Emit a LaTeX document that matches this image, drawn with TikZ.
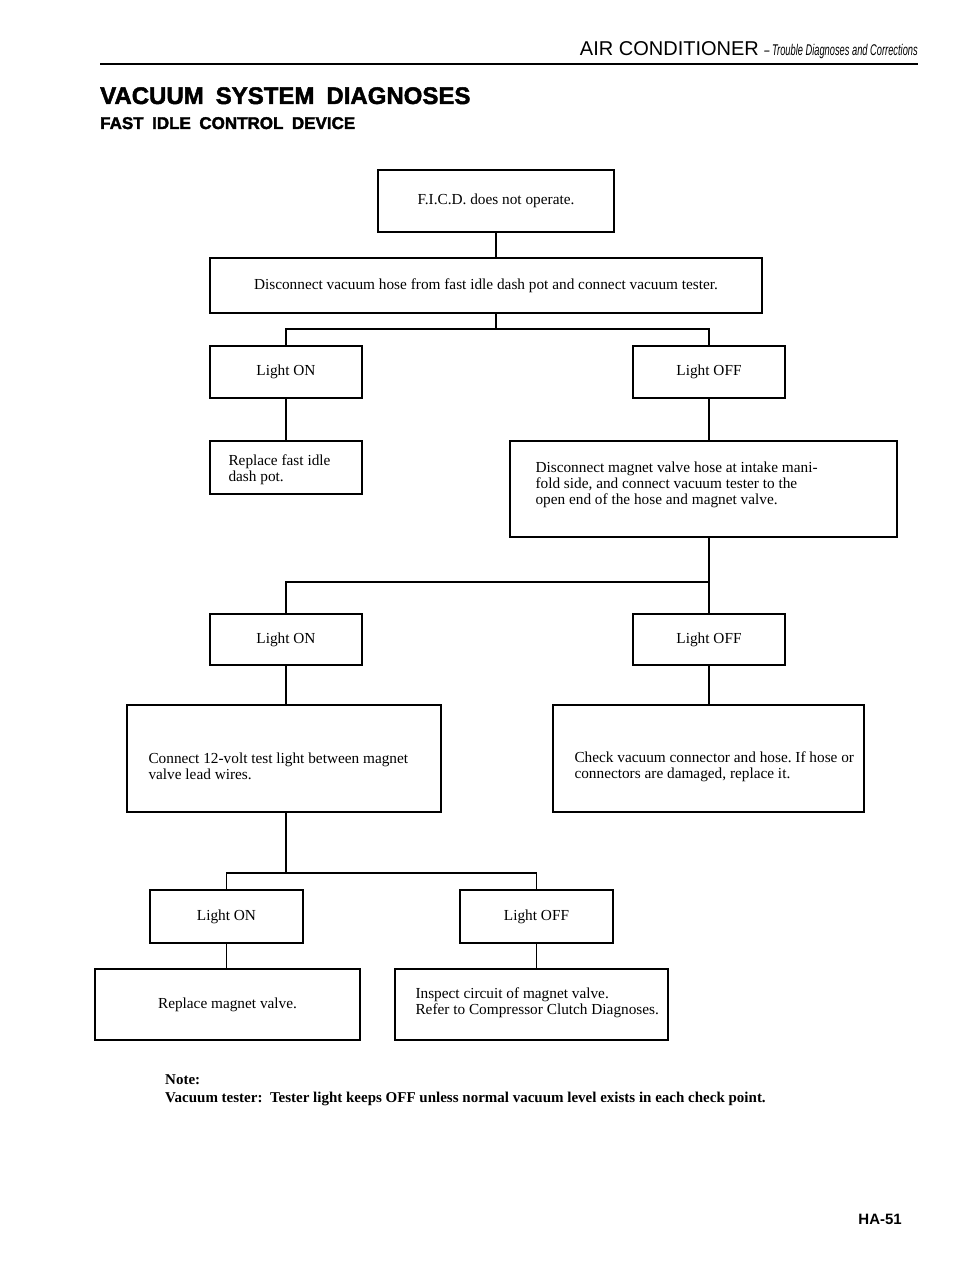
\documentclass[tikz,border=0pt]{standalone}
\usepackage{fontspec}
\setmainfont{Liberation Serif}
\setsansfont{Liberation Sans}
\newfontfamily\condsans[FakeStretch=0.6]{Liberation Sans}
\newfontfamily\heavysans[FakeBold=2,WordSpace=1.8]{Liberation Sans Bold}
\usetikzlibrary{positioning}
\tikzset{
  box/.style={draw,line width=1.4pt,rectangle,inner sep=0pt,font=\fontsize{15.3}{16}\selectfont},
  txt/.style={anchor=west,align=left,inner sep=0pt,font=\fontsize{15.3}{16}\selectfont},
  link/.style={line width=1.3pt},
}
\frenchspacing

\begin{document}
\begin{tikzpicture}[x=1pt,y=-1pt]
  \useasboundingbox (0,0) rectangle (960,1273);
  % page head
  \node[anchor=base east,inner sep=0pt] (head) at (918,56)
    {\sffamily\fontsize{20}{20}\selectfont AIR CONDITIONER\ {\condsans\itshape\fontsize{15.5}{15}\selectfont – Trouble Diagnoses and Corrections}};
  \draw[line width=2pt] (100,64) -- (918,64);
  \node[anchor=base west,inner sep=0pt] (title) at (100,104) {\heavysans\fontsize{24}{24}\selectfont VACUUM SYSTEM DIAGNOSES};
  \node[anchor=base west,inner sep=0pt] (subtitle) at (100,129) {\heavysans\fontsize{17}{17}\selectfont FAST IDLE CONTROL DEVICE};

  % chart boxes
  \node[box,minimum width=236pt,minimum height=62pt] (ficd) at (496,201) {F.I.C.D. does not operate.};
  \node[box,minimum width=552pt,minimum height=55pt] (hose) at (486,285.5) {Disconnect vacuum hose from fast idle dash pot and connect vacuum tester.};
  \node[box,minimum width=152pt,minimum height=52pt] (on1) at (286,372) {Light ON};
  \node[box,minimum width=152pt,minimum height=52pt] (off1) at (709,372) {Light OFF};
  \node[box,minimum width=152pt,minimum height=53pt] (dash) at (286,467.5) {};
  \node[txt] (dashtxt) at ([xshift=19pt,yshift=-2pt]dash.west) {Replace fast idle\\dash pot.};
  \node[box,minimum width=387pt,minimum height=96pt] (mag) at (703.5,489) {};
  \node[txt] (magtxt) at ([xshift=26pt,yshift=4pt]mag.west)
    {Disconnect magnet valve hose at intake mani-\\fold side, and connect vacuum tester to the\\open end of the hose and magnet valve.};
  \node[box,minimum width=152pt,minimum height=51pt] (on2) at (286,639.5) {Light ON};
  \node[box,minimum width=152pt,minimum height=51pt] (off2) at (709,639.5) {Light OFF};
  \node[box,minimum width=314pt,minimum height=107pt] (conn) at (284,758.5) {};
  \node[txt] (conntxt) at ([xshift=22pt,yshift=-8pt]conn.west)
    {Connect 12-volt test light between magnet\\valve lead wires.};
  \node[box,minimum width=311pt,minimum height=107pt] (chk) at (708.5,758.5) {};
  \node[txt] (chktxt) at ([xshift=22pt,yshift=-8pt]chk.west)
    {Check vacuum connector and hose. If hose or\\connectors are damaged, replace it.};
  \node[box,minimum width=153pt,minimum height=53pt] (on3) at (226.5,916.5) {Light ON};
  \node[box,minimum width=153pt,minimum height=53pt] (off3) at (536.5,916.5) {Light OFF};
  \node[box,minimum width=265pt,minimum height=71pt] (rmv) at (227.5,1004.5) {Replace magnet valve.};
  \node[box,minimum width=273pt,minimum height=71pt] (insp) at (531.5,1004.5) {};
  \node[txt] (insptxt) at ([xshift=21pt,yshift=2pt]insp.west)
    {Inspect circuit of magnet valve.\\Refer to Compressor Clutch Diagnoses.};

  % branch points
  \coordinate (j1) at (496,329);
  \coordinate (j2) at (709,582);
  \coordinate (j3) at (286,873);

  \draw[link] (ficd.south) -- (ficd.south |- hose.north);
  \draw[link] (j1 |- hose.south) -- (j1);
  \draw[link] (on1.north) |- (j1) -| (off1.north);
  \draw[link] (on1.south) -- (dash.north);
  \draw[link] (off1.south) -- (off1.south |- mag.north);
  \draw[link] (j2 |- mag.south) -- (off2.north);
  \draw[link] (on2.north) |- (j2);
  \draw[link] (on2.south) -- (on2.south |- conn.north);
  \draw[link] (off2.south) -- (off2.south |- chk.north);
  \draw[link] (j3 |- conn.south) -- (j3);
  \draw[link] (on3.north) |- (j3) -| (off3.north);
  \draw[link] (on3.south) -- (on3.south |- rmv.north);
  \draw[link] (off3.south) -- (off3.south |- insp.north);

  % note and page number
  \node[anchor=base west,inner sep=0pt,font=\bfseries\fontsize{15}{15}\selectfont] (note) at (165,1084) {Note:};
  \node[anchor=base west,inner sep=0pt,font=\bfseries\fontsize{15}{15}\selectfont] (notetxt) at (165,1102)
    {Vacuum tester:\ \ Tester light keeps OFF unless normal vacuum level exists in each check point.};
  \node[anchor=base east,inner sep=0pt,font=\sffamily\bfseries\fontsize{15}{15}\selectfont] (page) at (902,1224) {HA-51};
\end{tikzpicture}
\end{document}
